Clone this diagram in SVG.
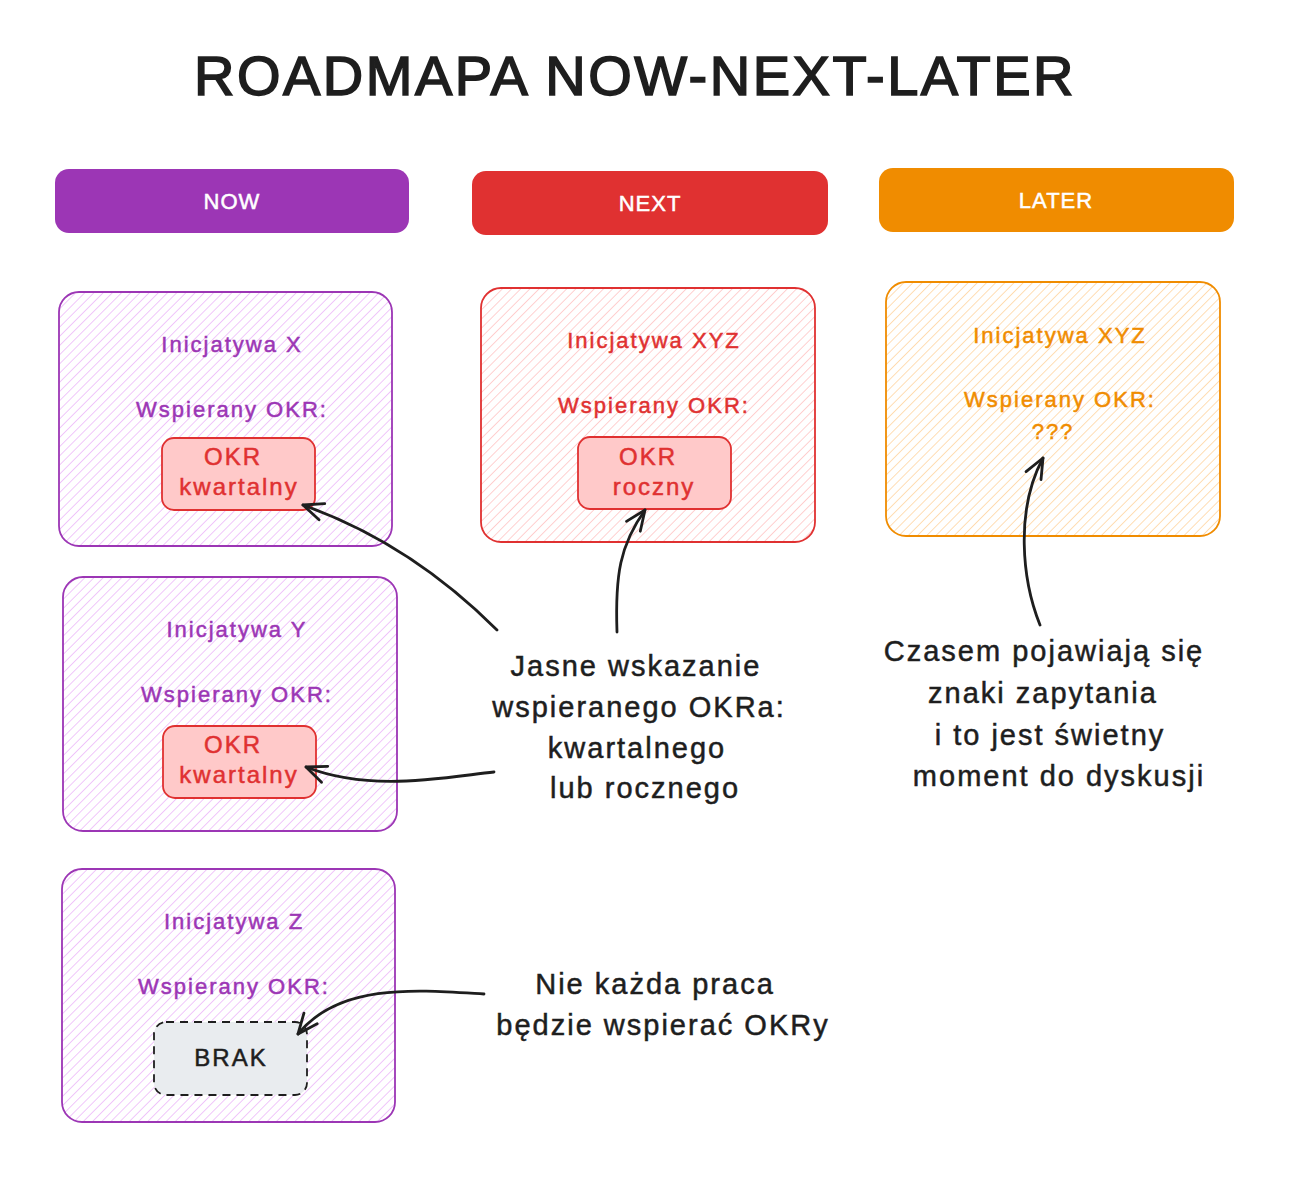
<svg xmlns="http://www.w3.org/2000/svg" width="1292" height="1186" viewBox="0 0 1292 1186">
  <defs>
    <pattern id="hatchPurple" patternUnits="userSpaceOnUse" width="6.5" height="6.5" patternTransform="rotate(45)">
      <line x1="0" y1="0" x2="0" y2="6.5" stroke="#eebefa" stroke-width="1.7"/>
    </pattern>
    <pattern id="hatchRed" patternUnits="userSpaceOnUse" width="6.5" height="6.5" patternTransform="rotate(45)">
      <line x1="0" y1="0" x2="0" y2="6.5" stroke="#ffc9c9" stroke-width="1.7"/>
    </pattern>
    <pattern id="hatchOrange" patternUnits="userSpaceOnUse" width="6.5" height="6.5" patternTransform="rotate(45)">
      <line x1="0" y1="0" x2="0" y2="6.5" stroke="#ffd8a8" stroke-width="1.7"/>
    </pattern>
    <marker id="arrow" markerUnits="userSpaceOnUse" viewBox="-24 -16 30 32" markerWidth="30" markerHeight="32" refX="0" refY="0" orient="auto">
      <path d="M-20 -8.5 L0 0 L-20 8.5" fill="none" stroke="#1e1e1e" stroke-width="2.8" stroke-linecap="round" stroke-linejoin="round"/>
    </marker>
  </defs>
  <style>
    text { font-family: "Liberation Sans", Arial, sans-serif; text-anchor: middle; }
    .title { font-size: 56px; letter-spacing: 2.5px; fill: #1e1e1e; stroke: #1e1e1e; stroke-width: 1.6px; }
    .hdr { font-size: 22px; letter-spacing: 1px; fill: #ffffff; stroke: #ffffff; stroke-width: 0.5px; }
    .card { font-size: 22px; letter-spacing: 2px; stroke-width: 0.5px; }
    .inner { font-size: 24px; letter-spacing: 2px; stroke-width: 0.5px; }
    .note { font-size: 29px; letter-spacing: 2px; fill: #1e1e1e; stroke: #1e1e1e; stroke-width: 0.5px; }
    .p { fill: #9c36b5; stroke: #9c36b5; }
    .r { fill: #e03131; stroke: #e03131; }
    .o { fill: #f08c00; stroke: #f08c00; }
    .k { fill: #1e1e1e; stroke: #1e1e1e; }
    .cardP { fill: url(#hatchPurple); stroke: #9c36b5; stroke-width: 1.8; }
    .cardR { fill: url(#hatchRed); stroke: #e03131; stroke-width: 1.8; }
    .cardO { fill: url(#hatchOrange); stroke: #f08c00; stroke-width: 1.8; }
    .okr { fill: #ffc9c9; stroke: #e03131; stroke-width: 1.8; }
    .brak { fill: #e9ecef; stroke: #1e1e1e; stroke-width: 1.8; stroke-dasharray: 8 6; }
    .conn { fill: none; stroke: #1e1e1e; stroke-width: 2.8; stroke-linecap: round; marker-end: url(#arrow); }
  </style>

  <rect x="0" y="0" width="1292" height="1186" fill="#ffffff"/>

  <g id="title">
    <text class="title" x="635" y="95">ROADMAPA NOW-NEXT-LATER</text>
  </g>

  <g id="header-now">
    <rect x="55" y="169" width="354" height="64" rx="14" fill="#9c36b5"/>
    <text class="hdr" x="232" y="209">NOW</text>
  </g>
  <g id="header-next">
    <rect x="472" y="171" width="356" height="64" rx="14" fill="#e03131"/>
    <text class="hdr" x="650" y="211">NEXT</text>
  </g>
  <g id="header-later">
    <rect x="879" y="168" width="355" height="64" rx="14" fill="#f08c00"/>
    <text class="hdr" x="1056" y="208">LATER</text>
  </g>

  <g id="card-x">
    <rect class="cardP" x="59" y="292" width="333" height="254" rx="20"/>
    <text class="card p" x="232" y="352">Inicjatywa X</text>
    <text class="card p" x="232" y="417">Wspierany OKR:</text>
    <g id="okr-x">
      <rect class="okr" x="162" y="438" width="153" height="72" rx="12"/>
      <text class="inner r" x="233" y="465">OKR</text>
      <text class="inner r" x="239" y="495">kwartalny</text>
    </g>
  </g>

  <g id="card-y">
    <rect class="cardP" x="63" y="577" width="334" height="254" rx="20"/>
    <text class="card p" x="237" y="637">Inicjatywa Y</text>
    <text class="card p" x="237" y="702">Wspierany OKR:</text>
    <g id="okr-y">
      <rect class="okr" x="163" y="726" width="153" height="72" rx="12"/>
      <text class="inner r" x="233" y="753">OKR</text>
      <text class="inner r" x="239" y="783">kwartalny</text>
    </g>
  </g>

  <g id="card-z">
    <rect class="cardP" x="62" y="869" width="333" height="253" rx="20"/>
    <text class="card p" x="234" y="929">Inicjatywa Z</text>
    <text class="card p" x="234" y="994">Wspierany OKR:</text>
    <g id="okr-z">
      <rect class="brak" x="154" y="1022" width="153" height="73" rx="12"/>
      <text class="inner k" x="231" y="1066">BRAK</text>
    </g>
  </g>

  <g id="card-next">
    <rect class="cardR" x="481" y="288" width="334" height="254" rx="20"/>
    <text class="card r" x="654" y="348">Inicjatywa XYZ</text>
    <text class="card r" x="654" y="413">Wspierany OKR:</text>
    <g id="okr-next">
      <rect class="okr" x="578" y="437" width="153" height="72" rx="12"/>
      <text class="inner r" x="648" y="465">OKR</text>
      <text class="inner r" x="654" y="495">roczny</text>
    </g>
  </g>

  <g id="card-later">
    <rect class="cardO" x="886" y="282" width="334" height="254" rx="20"/>
    <text class="card o" x="1060" y="343">Inicjatywa XYZ</text>
    <text class="card o" x="1060" y="407">Wspierany OKR:</text>
    <text class="card o" x="1053" y="439">???</text>
  </g>

  <g id="note-okr">
    <text class="note" x="636" y="676">Jasne wskazanie</text>
    <text class="note" x="639" y="717">wspieranego OKRa:</text>
    <text class="note" x="637" y="758">kwartalnego</text>
    <text class="note" x="645" y="798">lub rocznego</text>
  </g>

  <g id="note-questions">
    <text class="note" x="1044" y="661">Czasem pojawiają się</text>
    <text class="note" x="1043" y="703">znaki zapytania</text>
    <text class="note" x="1050" y="745">i to jest świetny</text>
    <text class="note" x="1059" y="786">moment do dyskusji</text>
  </g>

  <g id="note-brak">
    <text class="note" x="655" y="994">Nie każda praca</text>
    <text class="note" x="663" y="1035">będzie wspierać OKRy</text>
  </g>

  <g id="connectors">
    <path class="conn" d="M497 630 Q 410 543 303 505"/>
    <path class="conn" d="M494 772 C 440 778, 370 792, 306 767"/>
    <path class="conn" d="M617 632 C 615 575, 620 545, 645 510"/>
    <path class="conn" d="M1040 625 C 1022 580, 1015 510, 1043 458"/>
    <path class="conn" d="M484 994 C 420 990, 340 982, 298 1034"/>
  </g>
</svg>
